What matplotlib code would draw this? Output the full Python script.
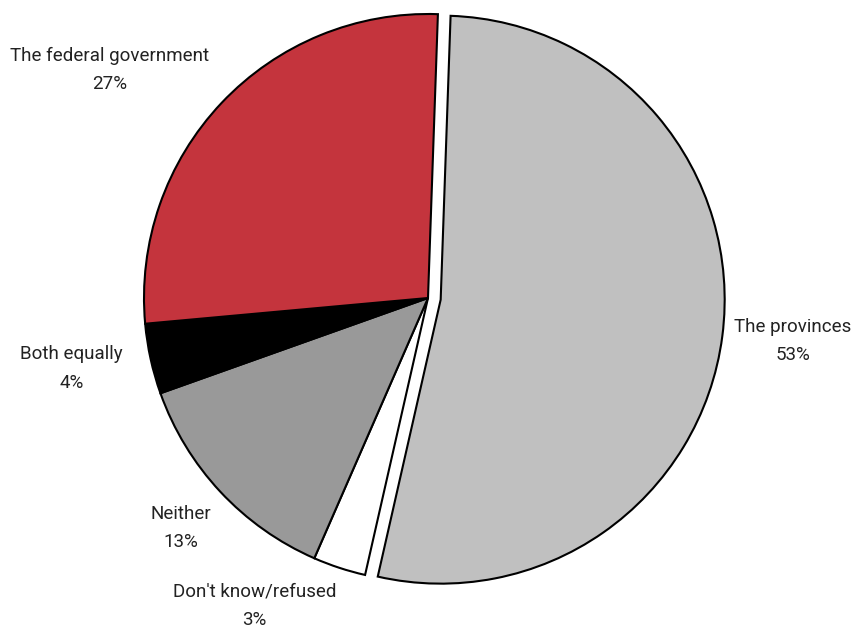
import matplotlib.pyplot as plt

# Data
categories = ["The provinces", "Don't know/refused", "Neither", "Both equally", "The federal government"]
shares = [53, 3, 13, 4, 27]
colors = ["#c0c0c0", "#ffffff", "#999999", "#000000", "#c4343d"]
explode = [0.045, 0, 0, 0, 0]

# label positions (data units, pie radius = 1)
label_xy = [(1.285, -0.152), (-0.61, -1.084), (-0.87, -0.81), (-1.255, -0.248), (-1.12, 0.803)]

PIE_R_PX = 284
CX, CY = 428, 298
W, H = 855, 628

fig = plt.figure(figsize=(W / 100, H / 100), dpi=100)
ax = fig.add_axes([0, 0, 1, 1])

ax.pie(
    shares,
    colors=colors,
    explode=explode,
    startangle=88,
    counterclock=False,
    wedgeprops={"edgecolor": "black", "linewidth": 1.5},
)

ax.set_xlim(-CX / PIE_R_PX, (W - CX) / PIE_R_PX)
ax.set_ylim(-(H - CY) / PIE_R_PX, CY / PIE_R_PX)
ax.set_aspect("auto")
ax.axis("off")

for name, val, (x, y) in zip(categories, shares, label_xy):
    ax.text(x, y, f"{name}\n{val}%", ha="center", va="center",
            fontsize=13.5, family=["Roboto", "DejaVu Sans"],
            color="#222222", linespacing=1.75)

fig.savefig("out.png", dpi=100)
